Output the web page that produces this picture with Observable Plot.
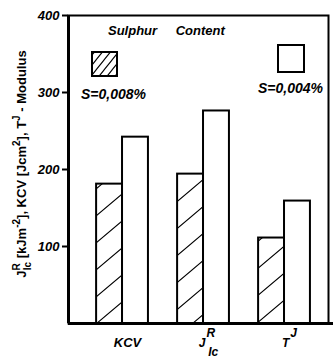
<!DOCTYPE html>
<html><head><meta charset="utf-8">
<script src="https://cdn.jsdelivr.net/npm/d3@7"></script>
<script src="https://cdn.jsdelivr.net/npm/@observablehq/plot@0.6"></script>
<style>body{margin:0;background:#fff} svg{display:block}</style>
</head><body><div id="chart"></div>
<script>
// ---- data ----
const categories = ["KCV", "JIc", "TJ"];
const labelBase = ["KCV", "J", "T"];
const labelSup = ["", "R", "J"];
const labelSub = ["", "Ic", ""];
const sulphur008 = [181, 194, 111];   // S = 0,008 % (hatched)
const sulphur004 = [242, 276, 159];   // S = 0,004 % (open)
const yTicks = [100, 200, 300, 400];
const seriesLabels = ["S=0,008%", "S=0,004%"];
const legendTitle = "Sulphur Content";

const rows = categories.map((c, i) => ({i, cat: c, a: sulphur008[i], b: sulphur004[i]}));
const W = 0.32;
const font = "'Liberation Sans', Arial, Helvetica, sans-serif";

const chart = Plot.plot({
  width: 333, height: 360,
  marginTop: 15, marginBottom: 37, marginLeft: 68, marginRight: 5,
  x: {type: "linear", domain: [-0.667, 2.543], axis: null},
  y: {domain: [0, 400], axis: null},
  style: {fontFamily: font, fontSize: "13px", fontWeight: "bold", fontStyle: "italic", background: "white", color: "black"},
  marks: [
    Plot.rectY(rows, {x1: d => d.i - W, x2: d => d.i, y: "a", fill: "url(#hatchBar)", stroke: "black", strokeWidth: 2}),
    Plot.rectY(rows, {x1: d => d.i, x2: d => d.i + W, y: "b", fill: "white", stroke: "black", strokeWidth: 2}),
    Plot.frame({stroke: "black", strokeWidth: 2}),
    Plot.ruleX([-0.667], {stroke: "black", strokeWidth: 3}),
    Plot.ruleY([0], {stroke: "black", strokeWidth: 3, insetRight: -5}),
    Plot.axisY({ticks: yTicks, tickSize: 6, tickPadding: 3, strokeWidth: 2, label: null}),
    Plot.text(rows, {x: "i", y: 0, text: d => labelBase[d.i], dy: 23, dx: 5, lineAnchor: "bottom", textAnchor: "middle"})
  ]
});
document.getElementById("chart").appendChild(chart);

const svgNode = chart.tagName.toLowerCase() === "svg" ? chart : chart.querySelector("svg");
const svg = d3.select(svgNode);
const defs = svg.insert("defs", ":first-child");
function hatch(id, w, h, sw) {
  const p = defs.append("pattern").attr("id", id).attr("patternUnits", "userSpaceOnUse")
    .attr("width", w).attr("height", h);
  p.append("rect").attr("width", w).attr("height", h).attr("fill", "white");
  const d = [-h, 0, h].map(o => `M${-w},${2*h + o}L${2*w},${-h + o}`).join("");
  p.append("path").attr("d", d).attr("stroke", "black").attr("stroke-width", sw);
}
hatch("hatchBar", 32, 27, 1.1);
hatch("hatchLeg", 8, 10, 1.1);

// composite x labels with super/subscripts
Array.from(svgNode.querySelectorAll("text")).forEach(node => {
  const i = labelBase.indexOf(node.textContent);
  if (i < 0) return;
  const t = d3.select(node);
  if (labelSup[i]) {
    t.attr("font-size", 12);
    t.append("tspan").attr("dx", 1).attr("dy", -10).attr("font-size", 12).text(labelSup[i]);
  }
  if (labelSub[i]) {
    t.append("tspan").attr("dx", -7).attr("dy", 19).attr("font-size", 12).text(labelSub[i]);
  }
});

// y label
const yl = svg.append("text").attr("transform", "translate(26,164) rotate(-90)")
  .attr("text-anchor", "middle").attr("font-size", 13).attr("font-style", "normal").attr("font-weight", "bold");
yl.append("tspan").text("J");
yl.append("tspan").attr("dy", -6).attr("font-size", 10).text("R");
yl.append("tspan").attr("dx", -7).attr("dy", 11).attr("font-size", 10).text("Ic");
yl.append("tspan").attr("dy", -5).text(" [kJm");
yl.append("tspan").attr("dy", -6).attr("font-size", 10).text("-2");
yl.append("tspan").attr("dy", 6).text("], KCV [Jcm");
yl.append("tspan").attr("dy", -6).attr("font-size", 10).text("2");
yl.append("tspan").attr("dy", 6).text("], T");
yl.append("tspan").attr("dy", -6).attr("font-size", 10).text("J");
yl.append("tspan").attr("dy", 6).text(" - Modulus");

// legend
const lg = svg.append("g").attr("text-anchor", "start");
lg.append("text").attr("x", 108).attr("y", 35).attr("text-anchor", "start").style("word-spacing", "15px").text(legendTitle);
lg.append("rect").attr("x", 92).attr("y", 52).attr("width", 25).attr("height", 24)
  .attr("fill", "url(#hatchLeg)").attr("stroke", "black").attr("stroke-width", 2);
lg.append("text").attr("x", 81).attr("y", 99).attr("font-size", 14).attr("text-anchor", "start").text(seriesLabels[0]);
lg.append("rect").attr("x", 278).attr("y", 45).attr("width", 26).attr("height", 27)
  .attr("fill", "white").attr("stroke", "black").attr("stroke-width", 2);
lg.append("text").attr("x", 258).attr("y", 93).attr("font-size", 14).attr("text-anchor", "start").text(seriesLabels[1]);
</script>
</body></html>
